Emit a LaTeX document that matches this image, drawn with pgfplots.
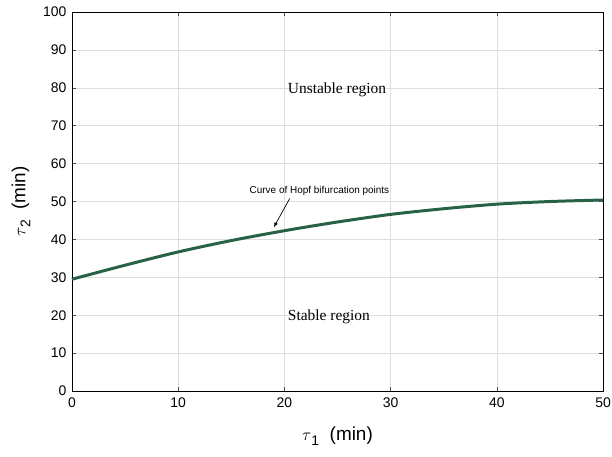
\documentclass[border=0pt]{standalone}
\usepackage{pgfplots}
\pgfplotsset{compat=1.18}
\usepackage{fontspec}
\setmainfont{Liberation Sans}
\newfontfamily\serifont{Liberation Serif}
\definecolor{curve}{RGB}{40,98,70}
\definecolor{gridc}{RGB}{222,222,222}
\newcommand{\sub}[1]{\raisebox{-5bp}{\fontsize{14}{14}\selectfont #1}}
\begin{document}
\begin{tikzpicture}
\begin{axis}[
  scale only axis,
  width=531bp, height=379bp,
  xmin=0, xmax=50, ymin=0, ymax=100,
  xtick={0,10,...,50}, ytick={0,10,...,100},
  grid=major,
  grid style={gridc, line width=0.6pt},
  axis line style={black, line width=0.8pt},
  tick align=inside,
  major tick length=4bp,
  tick style={black!70, line width=0.6pt},
  tick label style={font=\fontsize{14}{16}\selectfont},
  xticklabel style={yshift=-3bp},
  yticklabel style={xshift=-2bp},
  /pgf/number format/assume math mode=true,
  xlabel={$\tau$\sub{1}\ \ (min)},
  ylabel={$\tau$\sub{2}\ \ (min)},
  label style={font=\fontsize{19}{21}\selectfont},
  xlabel style={yshift=-13bp},
  ylabel style={yshift=6bp},
  clip=false,
]
\addplot[curve, line width=3pt, smooth] coordinates {
(0,29.5) (5,33.2) (10,36.7) (15,39.7) (20,42.3) (25,44.6) (30,46.6) (35,48.1) (40,49.3) (45,50.0) (50,50.4)
};
\node[anchor=west, font=\serifont\fontsize{15.5}{17}\selectfont] at (axis cs:20.0,79.5) {Unstable region};
\node[anchor=west, font=\serifont\fontsize{15.5}{17}\selectfont] at (axis cs:20.0,19.5) {Stable region};
\node[font=\fontsize{10}{12}\selectfont] at (axis cs:23.3,52.8) {Curve of Hopf bifurcation points};
\draw[-latex, line width=0.7pt] (axis cs:20.5,50.8) -- (axis cs:19.0,43.2);
\coordinate (ll) at (rel axis cs:-0.1356,-0.1715);
\coordinate (ur) at (rel axis cs:1.0169,1.0317);
\end{axis}
\pgfresetboundingbox
\path[use as bounding box] (ll) rectangle (ur);
\end{tikzpicture}
\end{document}
